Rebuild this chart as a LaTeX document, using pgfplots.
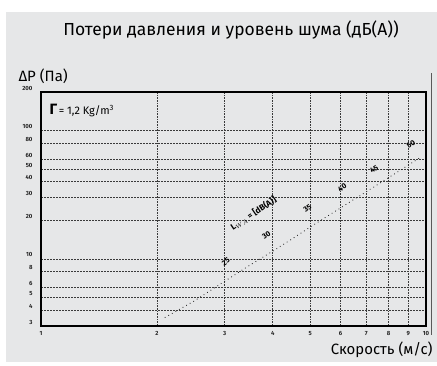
\documentclass[border=0pt]{standalone}
\usepackage{fontspec}
\setmainfont{Fira Sans}
\usepackage{pgfplots}
\pgfplotsset{compat=1.18}
\definecolor{panel}{HTML}{E6E7E8}
\definecolor{gridc}{HTML}{3A3A3A}
\begin{document}
\begin{tikzpicture}[x=1bp,y=1bp]
% page background and grey panel
\fill[white] (-41,-39) rectangle (396,326);
\fill[panel] (-35,-36) rectangle (396,314);
\draw[gray!70!black, line width=0.6bp] (390,253) -- (390,-9);

\begin{axis}[
    at={(0,0)}, anchor=south west,
    scale only axis,
    width=385bp, height=234bp,
    xmode=log, ymode=log,
    xmin=1, xmax=10,
    ymin=3, ymax=200,
    xtick={1,2,3,4,5,6,7,8,9,10},
    xticklabels={1,2,3,4,5,6,7,8,9,10},
    ytick={3,4,5,6,8,10,20,30,40,50,60,80,100,200},
    yticklabels={3,4,5,6,8,10,20,30,40,50,60,80,100,200},
    /pgf/number format/assume math mode=true,
    major tick length=0pt,
    minor tick num=0,
    xmajorgrids, ymajorgrids,
    x grid style={gridc, line width=0.7bp, dash pattern=on 0.7bp off 0.9bp},
    y grid style={gridc, line width=0.7bp, dash pattern=on 1.8bp off 1.2bp},
    axis line style={black, line width=1.3bp},
    tick label style={font=\fontsize{6}{6.5}\selectfont\bfseries, text=black!85},
    xticklabel style={yshift=-2bp},
    yticklabel style={yshift=4bp, xshift=-5bp},
    clip=false,
]
% pressure loss curve
\addplot[black!85, line width=1.1bp, line cap=round, dash pattern=on 0.1bp off 4bp]
coordinates {
 (2.1,3.5) (2.5,4.7) (3,6.7) (3.5,9.0) (4,11.5) (4.5,14.4) (5,17.7)
 (5.5,21.2) (6,25.0) (6.5,29.1) (7,33.4) (7.5,38.1) (8,43.1) (8.5,48.3)
 (9,53.9) (9.6,61)
};
% noise level labels
\addplot[draw=none, mark=none, nodes near coords, point meta=explicit symbolic,
  every node near coord/.append style={anchor=center, rotate=35, inner sep=0pt,
  font=\fontsize{7.5}{8}\selectfont\bfseries, text=black}]
coordinates {
 (3.02,9.5)[25] (3.85,15.3)[30] (4.92,24.7)[35] (6.06,35.8)[40]
 (7.33,50.1)[45] (9.14,78)[50]
};
\addplot[draw=none, mark=none, nodes near coords, point meta=explicit symbolic,
  every node near coord/.append style={anchor=center, rotate=34, inner sep=0pt,
  font=\fontsize{8.5}{9}\selectfont\bfseries, text=black}]
coordinates {
 (3.56,22.6)[{L$_{WA}$ = [dB(A)]}]
};
\end{axis}

\node at (231-41,296) {\fontsize{17.5}{19}\selectfont Потери давления и уровень шума (дБ(A))};
\node[anchor=west] at (-26,250) {\fontsize{15}{16}\selectfont ΔP (Па)};
\node[anchor=east] at (395,-24) {\fontsize{15}{16}\selectfont Скорость (м/с)};
\node[anchor=west] at (5,216) {{\fontsize{15}{16}\selectfont\bfseries Γ}\,{\fontsize{11}{12}\selectfont = 1,2 Kg/m\textsuperscript{3}}};
\end{tikzpicture}
\end{document}
